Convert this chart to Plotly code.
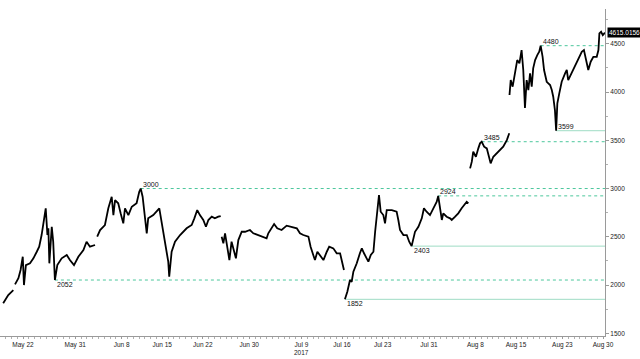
import plotly.graph_objects as go

# ---- price series (None = gap in the line) ----
dates = [
    "2017-05-18 14:00", "2017-05-19 11:00", "2017-05-20 08:00", None,
    "2017-05-20 15:00", "2017-05-21 05:00", "2017-05-21 14:00", "2017-05-21 23:00", "2017-05-22 04:00",
    "2017-05-22 12:00", "2017-05-23 05:00", "2017-05-23 19:00", "2017-05-24 09:00", "2017-05-24 19:00",
    "2017-05-25 05:00", "2017-05-25 12:00", "2017-05-25 22:00", "2017-05-26 05:00", "2017-05-26 09:00",
    "2017-05-26 13:00", "2017-05-26 23:00", "2017-05-27 05:00", "2017-05-27 12:00", "2017-05-27 22:00",
    "2017-05-28 16:00", "2017-05-29 13:00", "2017-05-30 02:00", "2017-05-30 19:00", "2017-05-31 13:00",
    "2017-06-01 10:00", "2017-06-01 23:00", "2017-06-02 13:00", "2017-06-03 10:00", None,
    "2017-06-03 19:00", "2017-06-04 07:00", "2017-06-05 03:00", "2017-06-05 17:00", "2017-06-06 07:00",
    "2017-06-06 14:00", "2017-06-06 21:00", "2017-06-07 10:00", "2017-06-07 20:00", "2017-06-08 07:00",
    "2017-06-08 14:00", "2017-06-09 04:00", "2017-06-09 18:00", "2017-06-10 14:00", "2017-06-11 01:00",
    "2017-06-11 07:00", "2017-06-11 15:00", "2017-06-12 01:00", "2017-06-12 08:00", "2017-06-12 14:00",
    "2017-06-13 11:00", "2017-06-14 12:00", "2017-06-14 22:00", "2017-06-15 07:00", "2017-06-15 16:00",
    "2017-06-16 01:00", "2017-06-16 05:00", "2017-06-16 15:00", "2017-06-17 05:00", "2017-06-18 02:00",
    "2017-06-19 05:00", "2017-06-20 02:00", "2017-06-20 13:00", "2017-06-21 01:00", "2017-06-21 12:00",
    "2017-06-22 02:00", "2017-06-22 13:00", "2017-06-22 23:00", "2017-06-23 13:00", "2017-06-24 02:00",
    "2017-06-24 16:00", "2017-06-25 02:00", None,
    "2017-06-25 06:00", "2017-06-25 13:00", "2017-06-25 20:00", "2017-06-26 03:00", "2017-06-26 14:00",
    "2017-06-26 23:00", "2017-06-27 10:00", "2017-06-27 17:00", "2017-06-28 03:00", "2017-06-28 17:00",
    "2017-06-29 07:00", "2017-06-30 03:00", "2017-06-30 17:00", "2017-07-01 14:00", "2017-07-02 10:00",
    "2017-07-03 00:00", "2017-07-03 07:00", "2017-07-03 21:00", "2017-07-04 07:00", "2017-07-04 20:00",
    "2017-07-05 14:00", "2017-07-06 11:00", "2017-07-07 08:00", "2017-07-08 05:00", "2017-07-08 18:00",
    "2017-07-09 08:00", "2017-07-10 05:00", "2017-07-10 14:00", "2017-07-11 01:00", "2017-07-11 08:00",
    "2017-07-11 18:00", "2017-07-12 08:00", "2017-07-12 19:00", "2017-07-13 09:00", "2017-07-13 19:00",
    "2017-07-14 12:00", "2017-07-15 02:00", "2017-07-15 16:00", "2017-07-15 23:00", "2017-07-16 08:00", None,
    "2017-07-16 12:00", "2017-07-16 22:00", "2017-07-17 09:00", "2017-07-17 16:00", "2017-07-17 23:00",
    "2017-07-18 13:00", "2017-07-19 02:00", "2017-07-19 10:00", "2017-07-19 19:00", "2017-07-20 03:00",
    "2017-07-20 13:00", "2017-07-20 23:00", "2017-07-21 10:00", "2017-07-21 17:00", "2017-07-21 23:00",
    "2017-07-22 09:00", "2017-07-22 16:00", "2017-07-23 03:00", "2017-07-23 10:00", "2017-07-23 17:00",
    "2017-07-24 14:00", "2017-07-25 10:00", "2017-07-25 17:00", "2017-07-26 00:00", "2017-07-26 14:00",
    "2017-07-27 04:00", "2017-07-27 14:00", "2017-07-28 00:00", "2017-07-28 14:00", "2017-07-29 04:00",
    "2017-07-29 18:00", "2017-07-30 03:00", "2017-07-30 14:00", "2017-07-31 04:00", "2017-07-31 18:00",
    "2017-08-01 08:00", "2017-08-01 14:00", "2017-08-01 22:00", "2017-08-02 05:00", "2017-08-02 11:00",
    "2017-08-03 01:00", "2017-08-03 15:00", "2017-08-03 22:00", "2017-08-04 12:00", "2017-08-05 01:00",
    "2017-08-05 15:00", "2017-08-06 05:00", "2017-08-06 12:00", "2017-08-06 19:00", None,
    "2017-08-07 02:00", "2017-08-07 09:00", "2017-08-07 15:00", "2017-08-08 02:00", "2017-08-08 12:00",
    "2017-08-08 19:00", "2017-08-09 02:00", "2017-08-09 12:00", "2017-08-09 23:00", "2017-08-10 05:00",
    "2017-08-10 15:00", "2017-08-11 02:00", "2017-08-11 16:00", "2017-08-12 06:00", "2017-08-12 19:00",
    "2017-08-13 10:00", "2017-08-13 20:00", None,
    "2017-08-13 21:00", "2017-08-14 02:00", "2017-08-14 10:00", "2017-08-14 20:00", "2017-08-15 05:00",
    "2017-08-15 14:00", "2017-08-15 23:00", "2017-08-16 06:00", "2017-08-16 13:00", "2017-08-16 20:00",
    "2017-08-17 03:00", "2017-08-17 10:00", "2017-08-17 17:00", "2017-08-17 23:00", "2017-08-18 07:00",
    "2017-08-18 16:00", "2017-08-19 00:00", "2017-08-19 06:00", "2017-08-19 14:00", "2017-08-19 20:00",
    "2017-08-20 07:00", "2017-08-20 21:00", "2017-08-21 04:00", "2017-08-21 10:00", "2017-08-21 17:00",
    "2017-08-21 22:00", "2017-08-22 03:00", "2017-08-22 11:00", "2017-08-22 21:00", "2017-08-23 11:00",
    "2017-08-23 18:00", "2017-08-24 00:00", "2017-08-24 10:00", "2017-08-25 00:00", "2017-08-25 14:00",
    "2017-08-26 01:00", "2017-08-26 08:00", "2017-08-26 17:00", "2017-08-27 02:00", "2017-08-27 11:00",
    "2017-08-27 21:00", "2017-08-28 08:00", "2017-08-28 22:00", "2017-08-29 05:00", "2017-08-29 09:00",
    "2017-08-29 16:00", "2017-08-29 23:00", "2017-08-30 08:00",
]

prices = [
    1811, 1897, 1948, None,
    2007, 2070, 2156, 2293, 2000,
    2207, 2225, 2277, 2345, 2397,
    2518, 2656, 2795, 2518, 2588,
    2225, 2604, 2449, 2052, 2207,
    2277, 2311, 2259, 2207, 2293,
    2363, 2449, 2397, 2415, None,
    2501, 2570, 2622, 2795, 2915,
    2725, 2881, 2847, 2743, 2639,
    2795, 2725, 2811, 2847, 2967,
    3000, 2915, 2725, 2536, 2691,
    2725, 2795, 2656, 2518, 2397,
    2242, 2086, 2345, 2449, 2518,
    2588, 2622, 2691, 2777, 2725,
    2674, 2604, 2674, 2708, 2691,
    2708, 2715, None,
    2501, 2432, 2536, 2432, 2259,
    2449, 2329, 2277, 2466, 2552,
    2552, 2570, 2536, 2518, 2501,
    2484, 2536, 2588, 2632, 2588,
    2570, 2615, 2604, 2588, 2536,
    2518, 2501, 2397, 2311, 2259,
    2345, 2293, 2259, 2345, 2397,
    2380, 2329, 2329, 2259, 2156, None,
    1852, 1931, 2052, 2034, 2138,
    2225, 2329, 2380, 2329, 2293,
    2242, 2311, 2345, 2552, 2691,
    2933, 2760, 2725, 2639, 2777,
    2777, 2760, 2674, 2570, 2518,
    2518, 2449, 2403, 2552, 2604,
    2691, 2795, 2760, 2725, 2795,
    2863, 2924, 2795, 2674, 2743,
    2708, 2691, 2674, 2708, 2743,
    2795, 2847, 2863, 2847, None,
    3209, 3278, 3381, 3329, 3416,
    3468, 3485, 3433, 3416, 3365,
    3261, 3329, 3365, 3399, 3433,
    3502, 3572, None,
    3969, 4124, 4055, 4193, 4331,
    4297, 4435, 4228, 3834, 4124,
    4020, 4193, 4055, 4245, 4331,
    4383, 4417, 4480, 4365, 4228,
    4106, 4072, 4020, 3951, 3813,
    3599, 3883, 3986, 4106, 4193,
    4228, 4124, 4176, 4245, 4331,
    4383, 4417, 4435, 4331, 4228,
    4314, 4365, 4365, 4435, 4608,
    4624, 4590, 4615.0156,
]

# ---- support / resistance levels ----
dashed_levels = [3000, 2052, 2924, 3485, 4480]
dashed_starts = ["2017-06-11 07:00", "2017-05-27 12:00", "2017-08-01 14:00", "2017-08-09 02:00", "2017-08-19 06:00"]
dashed_label_above = [True, False, True, True, True]

solid_levels = [1852, 2403, 3599]
solid_starts = ["2017-07-16 12:00", "2017-07-28 00:00", "2017-08-21 22:00"]
solid_label_above = [False, False, True]

last_value_text = "4615.0156"

# ---- axes ----
x_range = ["2017-05-18 00:49", "2017-08-30 08:10"]
y_range = [1472, 4860]
x_tick_dates = ["2017-05-22", "2017-05-31", "2017-06-08", "2017-06-15", "2017-06-22", "2017-06-30",
                "2017-07-09", "2017-07-16", "2017-07-23", "2017-07-31", "2017-08-08", "2017-08-15",
                "2017-08-23", "2017-08-30"]
x_tick_labels = ["May 22", "May 31", "Jun 8", "Jun 15", "Jun 22", "Jun 30", "Jul 9", "Jul 16",
                 "Jul 23", "Jul 31", "Aug 8", "Aug 15", "Aug 23", "Aug 30"]
year_label = "2017"
year_label_date = "2017-07-09"
y_tick_vals = [1500, 2000, 2500, 3000, 3500, 4000, 4500]

FONT = "Liberation Sans"
TEAL_D = "#4cc79c"
TEAL_S = "#9fdcc4"

fig = go.Figure()

for lvl, st in zip(dashed_levels, dashed_starts):
    fig.add_trace(go.Scatter(x=[st, x_range[1]], y=[lvl, lvl], mode="lines",
                             line=dict(color=TEAL_D, width=1, dash="3px,3px"),
                             hoverinfo="skip", showlegend=False))
for lvl, st in zip(solid_levels, solid_starts):
    fig.add_trace(go.Scatter(x=[st, x_range[1]], y=[lvl, lvl], mode="lines",
                             line=dict(color=TEAL_S, width=1),
                             hoverinfo="skip", showlegend=False))

fig.add_trace(go.Scatter(x=dates, y=prices, mode="lines",
                         line=dict(color="black", width=1.8),
                         connectgaps=False, showlegend=False))

annots = []
for lvl, st, above in list(zip(dashed_levels, dashed_starts, dashed_label_above)) + \
        list(zip(solid_levels, solid_starts, solid_label_above)):
    annots.append(dict(x=st, y=lvl, xref="x", yref="y", text=str(lvl), showarrow=False,
                       xanchor="left", yanchor="bottom" if above else "top",
                       yshift=-1 if above else 1,
                       font=dict(family=FONT, size=7, color="#111")))

annots.append(dict(x=1, y=prices[-1], xref="paper", yref="y", text=last_value_text,
                   showarrow=False, xanchor="left", yanchor="middle", xshift=2,
                   bgcolor="black", borderpad=1,
                   font=dict(family=FONT, size=6.5, color="white")))

annots.append(dict(x=year_label_date, y=0, xref="x", yref="paper", text=year_label,
                   showarrow=False, xanchor="center", yanchor="top", yshift=-11,
                   font=dict(family=FONT, size=6.5, color="#222")))

fig.update_layout(
    width=640, height=359,
    margin=dict(l=0, r=35, t=9, b=23),
    paper_bgcolor="white", plot_bgcolor="white",
    showlegend=False,
    annotations=annots,
    xaxis=dict(type="date", range=x_range, tickvals=x_tick_dates, ticktext=x_tick_labels,
               showgrid=False, zeroline=False, showline=True, linecolor="#9a9a9a", linewidth=1,
               ticks="outside", ticklen=2, tickcolor="#9a9a9a",
               minor=dict(dtick=86400000, ticks="outside", ticklen=2, tickcolor="#b0b0b0"),
               tickfont=dict(family=FONT, size=6.5, color="#222")),
    yaxis=dict(range=y_range, side="right", tickvals=y_tick_vals,
               showgrid=False, zeroline=False, showline=True, linecolor="#9a9a9a", linewidth=1,
               ticks="outside", ticklen=3, tickcolor="#9a9a9a",
               minor=dict(dtick=250, ticks="outside", ticklen=2, tickcolor="#b0b0b0"),
               tickfont=dict(family=FONT, size=6.5, color="#222")),
)

fig.write_html("out.html", config={"displayModeBar": False},
               post_script="document.body.style.margin='0';document.body.style.overflow='hidden';")
